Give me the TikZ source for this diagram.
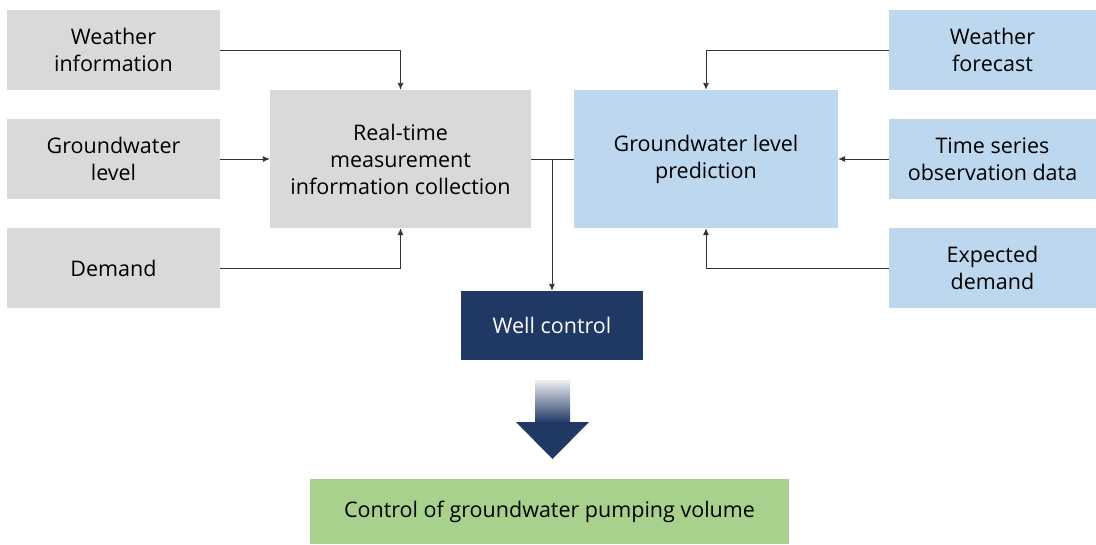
\documentclass[tikz,border=0pt]{standalone}
\usepackage{fontspec}
\setmainfont{Open Sans}
\usetikzlibrary{arrows.meta}
\definecolor{boxgray}{HTML}{D9D9D9}
\definecolor{boxblue}{HTML}{BDD7EE}
\definecolor{boxnavy}{HTML}{1F3864}
\definecolor{boxgreen}{HTML}{A9D18E}
\definecolor{linegray}{HTML}{333333}
\tikzset{
  blk/.style={draw=none, align=center, inner sep=0pt,
    font=\fontsize{21.5}{27}\selectfont},
  grayblk/.style={blk, fill=boxgray},
  blueblk/.style={blk, fill=boxblue},
  conn/.style={draw=linegray, line width=0.9pt},
  arr/.style={conn, -{Latex[length=7pt,width=6pt]}}
}
\begin{document}
\begin{tikzpicture}[x=1pt,y=-1pt]
\useasboundingbox (0,0) rectangle (1096,544);

% inputs, measured side
\node[grayblk, minimum width=213pt, minimum height=80pt] (winfo) at (113.5,50) {Weather\\information};
\node[grayblk, minimum width=213pt, minimum height=80pt] (gwlev) at (113.5,159) {Groundwater\\level};
\node[grayblk, minimum width=213pt, minimum height=80pt] (dmd) at (113.5,268) {Demand};

% inputs, forecast side
\node[blueblk, minimum width=207pt, minimum height=80pt] (wfc) at (992.5,50) {Weather\\forecast};
\node[blueblk, minimum width=207pt, minimum height=80pt] (tser) at (992.5,159) {Time series\\observation data};
\node[blueblk, minimum width=207pt, minimum height=80pt] (expd) at (992.5,268) {Expected\\demand};

% main blocks
\node[grayblk, minimum width=261pt, minimum height=138pt] (rtm) at (400.5,159) {Real-time\\measurement\\information collection};
\node[blueblk, minimum width=264pt, minimum height=138pt] (pred) at (706,159) {Groundwater level\\prediction};
\node[blk, fill=boxnavy, text=white, minimum width=182pt, minimum height=69pt] (well) at (552,325.5) {Well control};
\node[blk, fill=boxgreen, minimum width=479pt, minimum height=65pt] (pump) at (549.5,511.5) {Control of groundwater pumping volume};

% connectors
\draw[arr] (winfo.east) -| (rtm.north);
\draw[arr] (gwlev.east) -- (rtm.west);
\draw[arr] (dmd.east) -| (rtm.south);
\draw[arr] (wfc.west) -| (pred.north);
\draw[arr] (tser.west) -- (pred.east);
\draw[arr] (expd.west) -| (pred.south);
\draw[conn] (rtm.east) -- (pred.west);
\coordinate (jn) at (552,159);
\draw[arr] (jn) -- (well.north);

% big arrow down
\shade[top color=boxnavy!8, bottom color=boxnavy] (535,380) rectangle (570,423);
\fill[boxnavy] (516,422) -- (589,422) -- (552.5,459) -- cycle;
\end{tikzpicture}
\end{document}
